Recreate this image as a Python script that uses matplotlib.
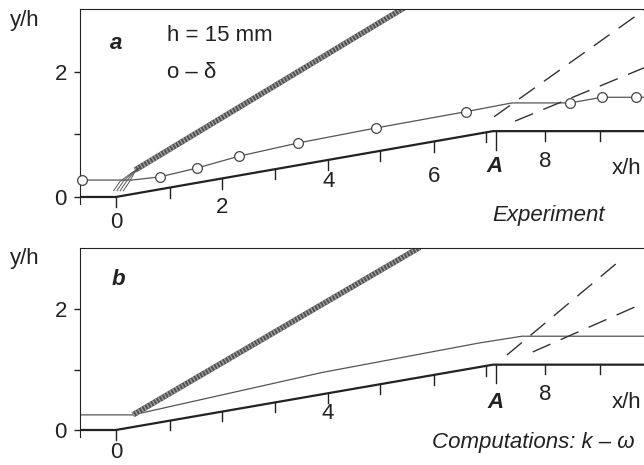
import numpy as np
import matplotlib
matplotlib.use("Agg")
import matplotlib.pyplot as plt

plt.rcParams['font.family'] = ['Liberation Sans', 'DejaVu Sans']

# wall contour (compression ramp), x/h and y/h
wall_x = [-0.67, 0.0, 7.05, 9.87]
wall_y_a = [0.0, 0.0, 1.05, 1.05]
wall_y_b = [0.0, 0.0, 1.08, 1.08]
wall_ticks = [0, 1.01, 1.98, 2.97, 3.96, 4.93, 5.94, 6.92, 8.02, 9.05]
a_pos = 7.1

# panel a - experiment, boundary layer thickness delta (circles)
delta_x = [-0.64, 0.82, 1.51, 2.30, 3.40, 4.86, 6.54, 8.49, 9.08, 9.72]
delta_y = [0.27, 0.32, 0.46, 0.65, 0.86, 1.10, 1.36, 1.50, 1.59, 1.59]
delta_line_x = [-0.64, 0.30, 0.82, 1.51, 2.30, 3.40, 4.86, 6.54, 7.40, 8.49, 9.08, 9.87]
delta_line_y = [0.27, 0.27, 0.32, 0.46, 0.65, 0.86, 1.10, 1.36, 1.50, 1.50, 1.59, 1.59]
shock_a_x = [0.36, 5.45]
shock_a_y = [0.43, 3.05]
fan_x0 = [-0.04, 0.02, 0.08, 0.14]
dash1_a_x = [7.07, 9.87]
dash1_a_y = [1.28, 2.98]
dash2_a_x = [7.46, 9.87]
dash2_a_y = [1.21, 2.06]

# panel b - computations k-omega
edge_b_x = [-0.67, 0.32, 3.85, 6.80, 7.59, 9.87]
edge_b_y = [0.25, 0.25, 0.95, 1.44, 1.55, 1.55]
shock_b_x = [0.32, 5.68]
shock_b_y = [0.25, 3.02]
dash1_b_x = [7.31, 9.50]
dash1_b_y = [1.24, 2.86]
dash2_b_x = [7.79, 9.87]
dash2_b_y = [1.29, 2.10]

FS = 16
INK = '#222222'


def setup(ax, ylow):
    ax.set_xlim(-0.67, 9.87)
    ax.set_ylim(ylow, 3.0)
    ax.spines['right'].set_visible(False)
    ax.spines['bottom'].set_visible(False)
    ax.spines['left'].set_bounds(-0.11, 3.0)
    ax.spines['left'].set_color(INK)
    ax.spines['top'].set_color(INK)
    ax.set_xticks([])
    ax.set_yticks([0, 1, 2])
    ax.set_yticklabels(['0', '', '2'])
    ax.tick_params(axis='y', direction='out', length=4.5, width=1, pad=5,
                   labelsize=FS, colors=INK)


def wall(ax, wy, labels):
    ax.plot(wall_x, wy, color=INK, lw=1.6, solid_capstyle='butt', clip_on=False)
    tl = 0.16
    for t in wall_ticks:
        y = np.interp(t, wall_x, wy)
        ax.plot([t, t], [y, y - tl], color=INK, lw=1, clip_on=False)
    ya = np.interp(a_pos, wall_x, wy)
    ax.plot([a_pos, a_pos], [ya, ya - 0.3], color=INK, lw=1, clip_on=False)
    for s, x, y, kw in labels:
        ax.text(x, y, s, fontsize=FS, color=INK, ha='center', va='center',
                clip_on=False, **kw)


def shock(ax, xs, ys):
    ax.plot(xs, ys, color='#505050', lw=4, solid_capstyle='butt')
    ax.plot(xs, ys, color='#a0a0a0', lw=4, dashes=(0.25, 0.35),
            dash_capstyle='butt')


def dashed(ax, xs, ys):
    ax.plot(xs, ys, color='#333333', lw=1, dashes=(14, 8))


fig = plt.figure(figsize=(6.44, 4.65), dpi=100)

# ---- panel a: experiment
ax1 = fig.add_axes([0.1242, 0.4955, 0.8758, 0.4854])
setup(ax1, -0.6)
wall(ax1, wall_y_a, [('0', 0.0, -0.41, {}), ('2', 1.98, -0.16, {}),
                     ('4', 3.98, 0.24, {}), ('6', 5.94, 0.32, {}),
                     ('A', 7.07, 0.48, dict(style='italic', weight='bold')),
                     ('8', 8.02, 0.56, {}), ('x/h', 9.55, 0.46, {})])
ax1.plot(delta_line_x, delta_line_y, color='#555555', lw=0.9)
ax1.plot(delta_x, delta_y, 'o', ms=7, mfc='white', mec='#444444', mew=0.9,
         clip_on=False, zorder=5)
shock(ax1, shock_a_x, shock_a_y)
for x0 in fan_x0:
    ax1.plot([x0, x0 + 0.12, 0.30 + x0 * 0.3, 0.45],
             [0.10, 0.25, 0.38, 0.47], color='#555555', lw=0.7)
dashed(ax1, dash1_a_x, dash1_a_y)
dashed(ax1, dash2_a_x, dash2_a_y)
ax1.text(-1.70, 2.82, 'y/h', fontsize=FS, color=INK, ha='center', va='center',
         clip_on=False)
ax1.text(0.0, 2.44, 'a', fontsize=FS, color=INK, ha='center', va='center',
         style='italic', weight='bold')
ax1.text(0.95, 2.57, 'h = 15 mm', fontsize=FS, color=INK, ha='left', va='center')
ax1.text(0.95, 1.99, 'o – δ', fontsize=FS, color=INK, ha='left', va='center')
ax1.text(8.09, -0.29, 'Experiment', fontsize=FS, color=INK, ha='center',
         va='center', style='italic', clip_on=False)

# ---- panel b: computations
ax2 = fig.add_axes([0.1242, 0.0037, 0.8758, 0.4619])
setup(ax2, -0.55)
wall(ax2, wall_y_b, [('0', 0.0, -0.38, {}), ('4', 3.96, 0.28, {}),
                     ('A', 7.10, 0.46, dict(style='italic', weight='bold')),
                     ('8', 8.02, 0.58, {}), ('x/h', 9.55, 0.46, {})])
ax2.plot(edge_b_x, edge_b_y, color='#555555', lw=0.9)
shock(ax2, shock_b_x, shock_b_y)
dashed(ax2, dash1_b_x, dash1_b_y)
dashed(ax2, dash2_b_x, dash2_b_y)
ax2.text(-1.70, 2.84, 'y/h', fontsize=FS, color=INK, ha='center', va='center',
         clip_on=False)
ax2.text(0.04, 2.48, 'b', fontsize=FS, color=INK, ha='center', va='center',
         style='italic', weight='bold')
ax2.text(7.81, -0.20, 'Computations: k – ω', fontsize=FS, color=INK,
         ha='center', va='center', style='italic', clip_on=False)

fig.savefig('out.png', dpi=100)
